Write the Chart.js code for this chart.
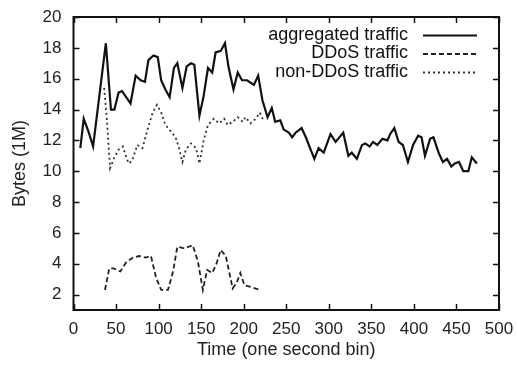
<!DOCTYPE html>
<html>
<head>
<meta charset="utf-8">
<script src="https://cdn.jsdelivr.net/npm/chart.js@4"></script>
<style>
  html, body { margin: 0; padding: 0; background: #fff; }
  #wrap { width: 517px; height: 372px; }
</style>
</head>
<body>
<div id="wrap"><canvas id="traffic"></canvas></div>
<script>
// aggregated traffic (time in s, Bytes in 1M)
const aggTime = [8, 12, 18, 23, 38, 44, 48, 53, 57, 67, 73, 79, 84, 88, 94, 99, 103, 108, 113, 118,
  122, 128, 133, 138, 142, 148, 153, 158, 163, 167, 173, 178, 182, 188, 193, 198, 204, 212, 217, 222,
  228, 233, 237, 243, 247, 253, 257, 261, 268, 273, 278, 283, 288, 294, 302, 308, 317, 323, 327, 333,
  339, 343, 348, 352, 357, 363, 369, 372, 377, 382, 387, 393, 399, 405, 409, 413, 419, 423, 429, 434,
  439, 444, 448, 453, 458, 464, 468, 474];
const aggBytes = [11.5, 13.4, 12.5, 11.6, 18.3, 14.0, 14.0, 15.1, 15.2, 14.4, 16.2, 15.9, 15.8, 17.2, 17.5, 17.4, 15.9, 15.3, 14.8, 16.7,
  17.0, 15.4, 16.8, 17.0, 16.9, 13.6, 14.9, 16.7, 16.4, 17.7, 17.8, 18.3, 16.8, 15.3, 16.4, 15.9, 15.9, 15.6, 16.2, 14.6,
  13.5, 14.1, 13.2, 13.3, 12.7, 12.5, 12.2, 12.5, 12.8, 12.2, 11.5, 10.8, 11.5, 11.2, 12.4, 11.9, 12.5, 11.0, 11.2, 10.8,
  11.7, 11.8, 11.6, 11.9, 11.7, 12.1, 12.0, 12.4, 12.8, 11.9, 11.7, 10.6, 11.7, 12.3, 12.2, 11.0, 12.1, 12.2, 11.2, 10.6,
  10.8, 10.3, 10.5, 10.6, 10.0, 10.0, 10.9, 10.5];

// DDoS traffic
const ddosTime = [37, 42, 47, 55, 62, 70, 77, 85, 91, 97, 103, 111, 117, 122, 130, 140, 146, 152, 157, 163,
  168, 173, 179, 187, 192, 196, 201, 208, 219];
const ddosBytes = [2.3, 3.7, 3.7, 3.5, 4.1, 4.4, 4.5, 4.4, 4.5, 3.1, 2.3, 2.3, 3.5, 5.1, 5.0, 5.2, 4.2, 2.3, 3.6, 3.4,
  4.0, 4.9, 4.5, 2.4, 2.8, 3.4, 2.6, 2.5, 2.3];

// non-DDoS traffic
const otherTime = [36, 39, 43, 48, 53, 58, 62, 65, 69, 75, 81, 87, 93, 98, 103, 108, 114, 120, 124, 128,
  132, 138, 144, 148, 153, 158, 165, 171, 177, 181, 187, 193, 199, 202, 208, 214, 219, 223];
const otherBytes = [15.4, 13.5, 10.2, 10.9, 11.4, 11.6, 10.9, 10.5, 10.7, 11.7, 11.5, 12.7, 13.8, 14.3, 13.8, 13.0, 12.6, 12.2, 11.5, 10.6,
  11.4, 11.8, 11.5, 10.5, 12.0, 13.0, 13.4, 13.1, 13.4, 13.0, 13.2, 13.5, 13.2, 13.5, 13.1, 13.4, 13.8, 13.3];

const xTicks = [0, 50, 100, 150, 200, 250, 300, 350, 400, 450, 500];
const yTicks = [2, 4, 6, 8, 10, 12, 14, 16, 18, 20];

const seriesNames = ['aggregated traffic', 'DDoS traffic', 'non-DDoS traffic'];

const FONT = '"Liberation Sans", Arial, sans-serif';

function pairs(xs, ys) {
  return xs.map((x, i) => ({ x: x, y: ys[i] }));
}

// let the layout padding alone decide where the plot box sits
function noLabelOverhang(scale) {
  scale.paddingLeft = 0;
  scale.paddingRight = 0;
  scale.paddingTop = 0;
  scale.paddingBottom = 0;
}

// gnuplot style border: box round the plot with inward ticks on all sides
const frame = {
  id: 'frame',
  beforeDatasetsDraw(chart) {
    const { ctx, chartArea: a, scales: { x, y } } = chart;
    const len = 6;
    ctx.save();
    ctx.strokeStyle = '#111';
    ctx.lineWidth = 1.5;
    ctx.beginPath();
    xTicks.forEach(v => {
      const px = Math.round(x.getPixelForValue(v)) + 0.5;
      ctx.moveTo(px, a.bottom); ctx.lineTo(px, a.bottom - len);
      ctx.moveTo(px, a.top); ctx.lineTo(px, a.top + len);
    });
    yTicks.forEach(v => {
      const py = Math.round(y.getPixelForValue(v)) + 0.5;
      ctx.moveTo(a.left, py); ctx.lineTo(a.left + len, py);
      ctx.moveTo(a.right, py); ctx.lineTo(a.right - len, py);
    });
    ctx.stroke();
    ctx.lineWidth = 2;
    ctx.strokeRect(a.left, a.top, a.right - a.left, a.bottom - a.top);
    ctx.restore();
  }
};

// key in the top right corner: right aligned text, line sample after it
const key = {
  id: 'key',
  afterDatasetsDraw(chart) {
    const { ctx, chartArea: a } = chart;
    const textRight = a.right - 91;
    const lineFrom = a.right - 76;
    const lineTo = a.right - 22;
    ctx.save();
    ctx.font = '18px ' + FONT;
    ctx.textAlign = 'right';
    ctx.textBaseline = 'middle';
    chart.data.datasets.forEach((ds, i) => {
      const cy = a.top + 18 + i * 18.5;
      ctx.fillStyle = '#111';
      ctx.fillText(ds.label, textRight, cy);
      ctx.strokeStyle = ds.borderColor;
      ctx.lineWidth = ds.borderWidth;
      ctx.setLineDash(ds.borderDash || []);
      ctx.beginPath();
      ctx.moveTo(lineFrom, cy + 0.5);
      ctx.lineTo(lineTo, cy + 0.5);
      ctx.stroke();
    });
    ctx.restore();
  }
};

new Chart(document.getElementById('traffic'), {
  type: 'line',
  data: {
    datasets: [
      {
        label: seriesNames[0],
        data: pairs(aggTime, aggBytes),
        borderColor: '#111',
        borderWidth: 2.2,
        pointRadius: 0,
        tension: 0
      },
      {
        label: seriesNames[1],
        data: pairs(ddosTime, ddosBytes),
        borderColor: '#222',
        borderWidth: 1.8,
        borderDash: [5, 3],
        pointRadius: 0,
        tension: 0
      },
      {
        label: seriesNames[2],
        data: pairs(otherTime, otherBytes),
        borderColor: '#333',
        borderWidth: 1.8,
        borderDash: [2, 3],
        pointRadius: 0,
        tension: 0
      }
    ]
  },
  options: {
    responsive: true,
    maintainAspectRatio: false,
    animation: false,
    layout: { padding: { top: 17, right: 18, bottom: 11, left: 9 } },
    plugins: {
      legend: { display: false },
      tooltip: { enabled: false }
    },
    scales: {
      x: {
        type: 'linear',
        min: 0,
        max: 500,
        afterBuildTicks: s => { s.ticks = xTicks.map(v => ({ value: v })); },
        afterFit: noLabelOverhang,
        grid: { display: false, drawTicks: false },
        border: { display: false },
        ticks: { color: '#222', font: { family: FONT, size: 17 }, padding: 9, maxRotation: 0 },
        title: { display: true, text: 'Time (one second bin)', color: '#222', font: { family: FONT, size: 18 }, padding: { top: -9, bottom: 0 } }
      },
      y: {
        type: 'linear',
        min: 1,
        max: 20,
        afterBuildTicks: s => { s.ticks = yTicks.map(v => ({ value: v })); },
        afterFit: noLabelOverhang,
        grid: { display: false, drawTicks: false },
        border: { display: false },
        ticks: { color: '#222', font: { family: FONT, size: 17 }, padding: 12 },
        title: { display: true, text: 'Bytes (1M)', color: '#222', font: { family: FONT, size: 18 }, padding: { top: 0, bottom: 0 } }
      }
    }
  },
  plugins: [frame, key]
});
</script>
</body>
</html>
